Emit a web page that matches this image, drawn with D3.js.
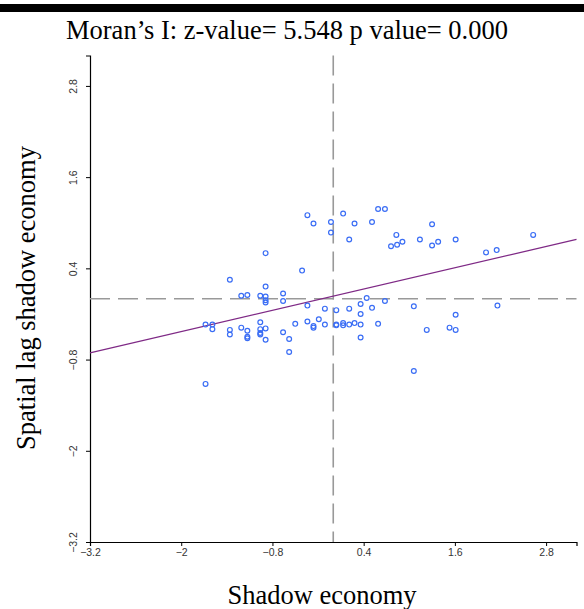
<!DOCTYPE html>
<html>
<head>
<meta charset="utf-8">
<script src="https://cdn.jsdelivr.net/npm/d3@7"></script>
<style>
  body { margin: 0; background: #fff; }
  svg { display: block; }
</style>
</head>
<body>
<div id="chart"></div>
<script>
// data: shadow economy (x) vs its spatial lag (y)
var shadowX = [
  -0.34, -0.26, -0.03, -0.03, 0.13, 0.28, 0.21, 0.51, 0.59, 0.68,
  0.83, 0.76, 0.84, 0.91, 1.14, 1.30, 1.30, 1.38, 1.61, 2.01,
  2.15, 2.63, -0.89, -0.41, -1.36, -0.89, -1.21, -1.13, -0.96, -0.89,
  -0.89, -0.89, -0.66, -0.66, -0.34, -0.11, 0.04, 0.21, 0.36, 0.44,
  0.51, 0.36, 0.68, 1.06, 2.16, 1.61, -1.68, -1.59, -1.59, -1.36,
  -1.36, -1.21, -1.13, -1.13, -1.13, -0.96, -0.96, -0.96, -0.96, -0.89,
  -0.89, -0.66, -0.58, -0.58, -0.50, -0.34, -0.26, -0.26, -0.19, -0.11,
  0.04, 0.04, 0.13, 0.13, 0.21, 0.28, 0.36, 0.36, 0.59, 1.23,
  1.53, 1.61, -1.68, 1.06
];
var lagY = [
  1.10, 0.99, 1.01, 0.87, 1.12, 0.99, 0.78, 1.01, 1.18, 1.18,
  0.84, 0.69, 0.71, 0.75, 0.78, 0.98, 0.70, 0.75, 0.78, 0.61,
  0.64, 0.84, 0.60, 0.37, 0.25, 0.16, 0.04, 0.05, 0.04, 0.03,
  -0.02, -0.05, 0.07, -0.03, -0.09, -0.13, -0.15, -0.13, -0.07, 0.01,
  -0.12, -0.20, -0.03, -0.10, -0.09, -0.21, -0.34, -0.34, -0.40, -0.41,
  -0.47, -0.38, -0.42, -0.50, -0.52, -0.31, -0.40, -0.45, -0.47, -0.39,
  -0.54, -0.44, -0.53, -0.70, -0.33, -0.30, -0.36, -0.38, -0.27, -0.34,
  -0.34, -0.35, -0.32, -0.35, -0.34, -0.32, -0.34, -0.51, -0.33, -0.41,
  -0.38, -0.41, -1.12, -0.95
];
var fitSlope = 0.233;
var fitIntercept = 0.035;
var tickValues = [-3.2, -2, -0.8, 0.4, 1.6, 2.8];
var titleText = "Moran\u2019s I: z-value= 5.548 p value= 0.000";
var xLabel = "Shadow economy";
var yLabel = "Spatial lag shadow economy";

var width = 584, height = 609;
var pLeft = 90, pRight = 576.5, pTop = 55.5, pBottom = 542;
var serif = "'Liberation Serif', 'Times New Roman', serif";

var svg = d3.select('#chart')
  .append("svg")
  .attr("width", width)
  .attr("height", height);

var x = d3.scaleLinear().domain([-3.2, 3.2]).range([pLeft, pRight]);
var y = d3.scaleLinear().domain([-3.2, 3.2]).range([pBottom, pTop]);

// black bar at the very top
svg.append("rect")
  .attr("x", 0).attr("y", 4)
  .attr("width", width).attr("height", 8)
  .attr("fill", "#000");

svg.append("text")
  .attr("x", 287).attr("y", 39)
  .attr("text-anchor", "middle")
  .style("font-family", serif)
  .style("font-size", "26.5px")
  .attr("fill", "#000")
  .text(titleText);

// axes
var fmt = function(d){ return d3.format("")(d); };

var xAxis = svg.append("g")
  .attr("transform", "translate(0," + pBottom + ")")
  .call(d3.axisBottom(x).tickValues(tickValues).tickSize(4).tickPadding(3).tickFormat(fmt));

var yAxis = svg.append("g")
  .attr("transform", "translate(" + pLeft + ",0)")
  .call(d3.axisLeft(y).tickValues(tickValues).tickSize(4).tickPadding(3).tickFormat(fmt));

[xAxis, yAxis].forEach(function(a){
  a.select(".domain").attr("stroke", "#000").attr("stroke-width", 1.2);
  a.selectAll(".tick line").attr("stroke", "#000");
  a.selectAll(".tick text")
    .style("font-family", "'Liberation Sans', Arial, sans-serif")
    .style("font-size", "10.5px")
    .attr("fill", "#333");
});

yAxis.selectAll(".tick text")
  .attr("transform", "rotate(-90)")
  .attr("text-anchor", "middle")
  .attr("x", 0).attr("y", -13)
  .attr("dy", 0);

// mean lines
svg.append("line")
  .attr("x1", x(0)).attr("x2", x(0))
  .attr("y1", pTop).attr("y2", pBottom)
  .attr("stroke", "#999").attr("stroke-width", 1.6)
  .attr("stroke-dasharray", "20,8");

svg.append("line")
  .attr("x1", pLeft).attr("x2", pRight)
  .attr("y1", y(0)).attr("y2", y(0))
  .attr("stroke", "#999").attr("stroke-width", 1.6)
  .attr("stroke-dasharray", "20,8");

// fitted line
svg.append("line")
  .attr("x1", x(-3.2)).attr("y1", y(fitIntercept + fitSlope * -3.2))
  .attr("x2", x(3.2)).attr("y2", y(fitIntercept + fitSlope * 3.2))
  .attr("stroke", "#7f2a86").attr("stroke-width", 1.3);

// points
svg.append("g").selectAll("circle")
  .data(d3.range(shadowX.length))
  .enter().append("circle")
  .attr("cx", function(i){ return x(shadowX[i]); })
  .attr("cy", function(i){ return y(lagY[i]); })
  .attr("r", 2.4)
  .attr("fill", "none")
  .attr("stroke", "#3a6df5")
  .attr("stroke-width", 1.2);

// axis titles
svg.append("text")
  .attr("x", 322).attr("y", 604)
  .attr("text-anchor", "middle")
  .style("font-family", serif)
  .style("font-size", "26.5px")
  .text(xLabel);

svg.append("text")
  .attr("transform", "translate(35,298) rotate(-90)")
  .attr("text-anchor", "middle")
  .style("font-family", serif)
  .style("font-size", "26.5px")
  .text(yLabel);
</script>
</body>
</html>
